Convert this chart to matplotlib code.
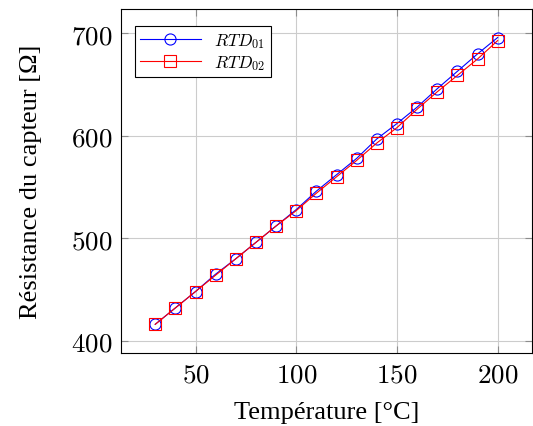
import matplotlib

matplotlib.use("Agg")
import matplotlib.pyplot as plt
from matplotlib.ticker import FuncFormatter

# Temperatures and measured resistances of the two sensors
temperature = [30, 40, 50, 60, 70, 80, 90, 100, 110, 120, 130, 140, 150, 160, 170, 180, 190, 200]
rtd01 = [416, 432, 448, 465, 480, 496, 512, 528, 546, 562, 578, 597, 612, 628, 646, 663, 680, 696]
rtd02 = [416, 432, 448, 464, 480, 496, 512, 527, 544, 560, 576, 593, 608, 626, 643, 659, 675, 693]

xticks = [50, 100, 150, 200]
yticks = [400, 500, 600, 700]

plt.rcParams["mathtext.fontset"] = "cm"

fig = plt.figure(figsize=(5.33, 4.27), dpi=100)
ax = fig.add_axes([0.227, 0.171, 0.771, 0.806])

ax.plot(temperature, rtd01, color="blue", lw=0.8, marker="o", ms=8,
        mfc="none", mec="blue", mew=0.8, label=r"$RTD_{01}$")
ax.plot(temperature, rtd02, color="red", lw=0.8, marker="s", ms=8,
        mfc="none", mec="red", mew=0.8, label=r"$RTD_{02}$")

ax.set_xlim(13, 217)
ax.set_ylim(388, 724)
ax.set_xticks(xticks)
ax.set_yticks(yticks)
ax.xaxis.set_major_formatter(FuncFormatter(lambda v, p: f"${v:g}$"))
ax.yaxis.set_major_formatter(FuncFormatter(lambda v, p: f"${v:g}$"))
ax.tick_params(direction="in", length=5, color="0.55", labelsize=19.5,
               top=True, right=True, pad=6)
ax.grid(True, color="0.8", lw=0.8)
ax.set_axisbelow(True)
for s in ax.spines.values():
    s.set_linewidth(0.8)

ax.set_xlabel("Température [°C]", family="Liberation Serif", fontsize=19, labelpad=10)
ax.set_ylabel("Résistance du capteur [Ω]", family="Liberation Serif", fontsize=19, labelpad=21)

leg = ax.legend(loc="upper left", fontsize=12.5, fancybox=False, framealpha=1,
                edgecolor="black", handlelength=3.5, borderpad=0.3,
                labelspacing=0.15, bbox_to_anchor=(0.012, 0.975))
leg.get_frame().set_linewidth(0.8)

fig.savefig("out.png", dpi=100)
